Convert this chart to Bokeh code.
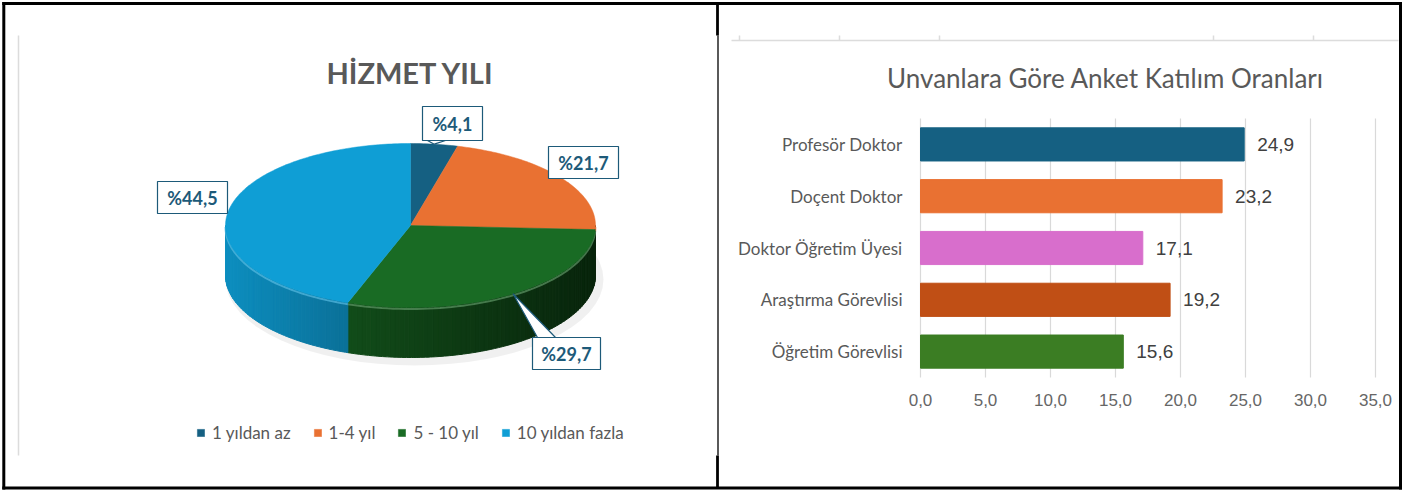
import numpy as np
from bokeh.plotting import figure
from bokeh.models import (Range1d, LinearScale, LinearAxis, FixedTicker, CustomJSTickFormatter,
                          Legend, LegendItem, ColumnDataSource)
from bokeh.core.properties import value
from bokeh.embed import file_html
from bokeh.resources import INLINE

# ---------------- data ----------------
pie_title = "HİZMET YILI"
pie_labels = ["1 yıldan az", "1-4 yıl", "5 - 10 yıl", "10 yıldan fazla"]
pie_values = [4.1, 21.7, 29.7, 44.5]
pie_colors = ["#156082", "#E97132", "#196B24", "#0F9ED5"]

bar_title = "Unvanlara Göre Anket Katılım Oranları"
bar_categories = ["Profesör Doktor", "Doçent Doktor", "Doktor Öğretim Üyesi",
                  "Araştırma Görevlisi", "Öğretim Görevlisi"]
bar_values = [24.9, 23.2, 17.1, 19.2, 15.6]
bar_colors = ["#156082", "#E97132", "#D86ECC", "#C04F15", "#3B7D23"]
x_ticks = [0, 5, 10, 15, 20, 25, 30, 35]


def fmt(v):
    return f"{v:.1f}".replace(".", ",")


# ---------------- layout (pixels) ----------------
W, H = 1408, 492
CX, CY, RX, RY, DEPTH = 410, 225, 185, 82, 50
CALLOUT_POS = [(452, 123), (583, 162), (566, 353), (192, 197)]
CALLOUT_W = [60, 70, 68, 70]
CALLOUT_H = [34, 32, 32, 32]
BAR_ZERO_PX, PX_PER_UNIT = 920, 13.0
PLOT_TOP_PX, PLOT_BOTTOM_PX = 118, 377
LEGEND_LEFT_PX, LEGEND_MID_PX = 196, 433
LABEL_BLUE = "#1d5a79"


def shade(hexc, s):
    r, g, b = (int(hexc[k:k + 2], 16) for k in (1, 3, 5))
    return "#%02x%02x%02x" % (min(255, int(r * s)), min(255, int(g * s)), min(255, int(b * s)))


def lighten(hexc, t):
    r, g, b = (int(hexc[k:k + 2], 16) for k in (1, 3, 5))
    return "#%02x%02x%02x" % (int(r + (255 - r) * t), int(g + (255 - g) * t), int(b + (255 - b) * t))


p = figure(width=W, height=H, x_range=Range1d(0, W), y_range=Range1d(H, 0),
           output_backend="svg", toolbar_location=None, x_axis_type=None, y_axis_type=None,
           min_border=0, outline_line_color=None, background_fill_color="white",
           border_fill_color="white")

# ---------- frame of the two cells ----------
p.segment(x0=[1.8, 1.8, 3.3, 1400], y0=[3, 487.5, 1.5, 1.5], x1=[1401.5, 1401.5, 3.3, 1400],
          y1=[3, 487.5, 489, 489], line_color="black", line_width=3)
p.segment(x0=[717, 717], y0=[3, 455], x1=[717, 717], y1=[35, 487.5], line_color="black", line_width=2.8)
p.segment(x0=[717.5], y0=[35], x1=[717.5], y1=[455], line_color="black", line_width=1.3)
# left chart-area edge
p.segment(x0=[18], y0=[35], x1=[18], y1=[455], line_color="#dcdcdc", line_width=1.5)
# remnant of the chart above on the right
p.segment(x0=[731], y0=[40], x1=[1398], y1=[40], line_color="#dcdcdc", line_width=1.5)
rem_ticks = [739, 839, 939, 1213, 1313]
p.segment(x0=rem_ticks, y0=[35] * 5, x1=rem_ticks, y1=[40] * 5, line_color="#dcdcdc", line_width=1.5)

# ---------- pie (3D look) ----------
frac = np.array(pie_values) / sum(pie_values)
ang = np.concatenate([[0], np.cumsum(frac)]) * 2 * np.pi

p.ellipse(x=[CX + 4], y=[CY + DEPTH + 4], width=2 * RX + 8, height=2 * RY + 8,
          fill_color="black", fill_alpha=0.06, line_color=None)

xs, ys, cs = [], [], []
rim_x, rim_y, rim_c = [], [], []
for i in range(len(pie_values)):
    a, b = max(ang[i], np.pi / 2), min(ang[i + 1], 1.5 * np.pi)
    if a >= b:
        continue
    n = max(1, int(np.ceil((b - a) / np.radians(1.5))))
    edges = np.linspace(a, b, n + 1)
    for t0, t1 in zip(edges[:-1], edges[1:]):
        tt = np.linspace(t0, t1, 3)
        tx = CX + RX * np.sin(tt)
        ty = CY - RY * np.cos(tt)
        xs.append(list(tx) + list(tx[::-1]))
        ys.append(list(ty) + list(ty[::-1] + DEPTH))
        xm = CX + RX * np.sin((t0 + t1) / 2)
        s = 0.62 + 0.28 * (CX - xm) / RX
        cs.append(shade(pie_colors[i], s))
    tt = np.linspace(a, b, 60)
    rim_x.append(list(CX + RX * np.sin(tt)))
    rim_y.append(list(CY - RY * np.cos(tt) + 1.5))
    rim_c.append(lighten(pie_colors[i], 0.3))
p.patches(xs, ys, fill_color=cs, line_color=cs, line_width=1.0)
p.multi_line(rim_x, rim_y, line_color=rim_c, line_width=2, line_alpha=0.7)

slice_renderers = []
for i in range(len(pie_values)):
    npts = max(3, int(np.degrees(ang[i + 1] - ang[i])) + 2)
    tt = np.linspace(ang[i], ang[i + 1], npts)
    px = [CX] + list(CX + RX * np.sin(tt))
    py = [CY] + list(CY - RY * np.cos(tt))
    r = p.patch(px, py, fill_color=pie_colors[i], line_color=pie_colors[i], line_width=0.5)
    slice_renderers.append(r)

# callouts
mid = (ang[:-1] + ang[1:]) / 2
for i in range(len(pie_values)):
    tipx, tipy = CX + RX * np.sin(mid[i]), CY - RY * np.cos(mid[i])
    bx, by = CALLOUT_POS[i]
    w, h = CALLOUT_W[i], CALLOUT_H[i]
    l, r_, t, btm = bx - w / 2, bx + w / 2, by - h / 2, by + h / 2
    inside = (l - 1 <= tipx <= r_ + 1) and (t - 1 <= tipy <= btm + 1)
    if not inside:
        qx, qy = np.clip(tipx, l, r_), np.clip(tipy, t, btm)
        gx, gy = abs(tipx - qx), abs(tipy - qy)
        if gy >= gx:
            c0 = np.clip(qx, l + 14, r_ - 10)
            base = [(c0 - 9, qy), (c0 + 9, qy)]
        else:
            c0 = np.clip(qy, t + 8, btm - 8)
            base = [(qx, c0 - 6), (qx, c0 + 6)]
        p.patch([tipx, base[0][0], base[1][0]], [tipy, base[0][1], base[1][1]],
                fill_color="white", line_color=LABEL_BLUE, line_width=1.2)
    p.rect(x=[bx], y=[by], width=w, height=h, fill_color="white", line_color=LABEL_BLUE,
           line_width=1.2)
    p.text(x=[bx], y=[by], text=["%" + fmt(pie_values[i])], text_align="center",
           text_baseline="middle", text_font=value("Lato"), text_font_style="bold",
           text_font_size="18px", text_color=LABEL_BLUE)

p.text(x=[410], y=[72], text=[pie_title], text_align="center", text_baseline="middle",
       text_font=value("Lato"), text_font_style="bold", text_font_size="29px", text_color="#595959")

legend = Legend(items=[LegendItem(label=lab, renderers=[rr]) for lab, rr in zip(pie_labels, slice_renderers)],
                orientation="horizontal", location=(LEGEND_LEFT_PX, H - LEGEND_MID_PX - 10),
                glyph_width=9, glyph_height=9,
                label_standoff=7, spacing=22, padding=0, margin=0, label_height=20,
                label_text_font="Lato", label_text_font_size="17px", label_text_color="#595959",
                background_fill_alpha=0, border_line_color=None)
p.add_layout(legend)

# ---------- horizontal bar chart ----------
n_cat = len(bar_categories)
# category slots: first category on top (slot centres n-0.5 ... 0.5)
cat_pos = [n_cat - 0.5 - k for k in range(n_cat)]
slot_px = (PLOT_BOTTOM_PX - PLOT_TOP_PX) / n_cat
p.extra_x_ranges = {"bx": Range1d(-BAR_ZERO_PX / PX_PER_UNIT, (W - BAR_ZERO_PX) / PX_PER_UNIT)}
p.extra_y_ranges = {"by": Range1d(-(H - PLOT_BOTTOM_PX) / slot_px, n_cat + PLOT_TOP_PX / slot_px)}
p.extra_x_scales = {"bx": LinearScale()}
p.extra_y_scales = {"by": LinearScale()}

p.segment(x0=x_ticks, x1=x_ticks, y0=[0] * len(x_ticks), y1=[n_cat] * len(x_ticks),
          x_range_name="bx", y_range_name="by", line_color="#d9d9d9", line_width=1.2)

src = ColumnDataSource(dict(pos=cat_pos, cat=bar_categories, val=bar_values, color=bar_colors,
                            lab=[fmt(v) for v in bar_values]))
p.hbar(y="pos", left=0, right="val", height=0.64, fill_color="color", line_color="color",
       source=src, x_range_name="bx", y_range_name="by")
p.text(x="val", y="pos", text="lab", x_offset=13, text_align="left", text_baseline="middle",
       text_font=value("Liberation Sans"), text_font_size="19px", text_color="#404040",
       source=src, x_range_name="bx", y_range_name="by")

xaxis = LinearAxis(x_range_name="bx", y_range_name="by", fixed_location=0,
                   ticker=FixedTicker(ticks=x_ticks),
                   formatter=CustomJSTickFormatter(code="return tick.toFixed(1).replace('.', ',');"),
                   axis_line_color=None, major_tick_line_color=None, minor_tick_line_color=None,
                   major_tick_out=0, major_tick_in=0, major_label_standoff=16,
                   major_label_text_font="Liberation Sans", major_label_text_font_size="17px",
                   major_label_text_color="#666666")
p.add_layout(xaxis, "below")
yaxis = LinearAxis(x_range_name="bx", y_range_name="by", fixed_location=0,
                   ticker=FixedTicker(ticks=cat_pos),
                   formatter=CustomJSTickFormatter(args=dict(cats=bar_categories, n=n_cat),
                                                   code="return cats[Math.round(n - 0.5 - tick)];"),
                   axis_line_color=None, major_tick_line_color=None, minor_tick_line_color=None,
                   major_tick_out=0, major_tick_in=0, major_label_standoff=18,
                   major_label_text_font="Lato", major_label_text_font_size="17px",
                   major_label_text_color="#595959")
p.add_layout(yaxis, "left")

p.text(x=[1105], y=[77], text=[bar_title], text_align="center", text_baseline="middle",
       text_font=value("Lato"), text_font_size="26px", text_color="#595959")

open("out.html", "w").write(file_html(p, INLINE))
